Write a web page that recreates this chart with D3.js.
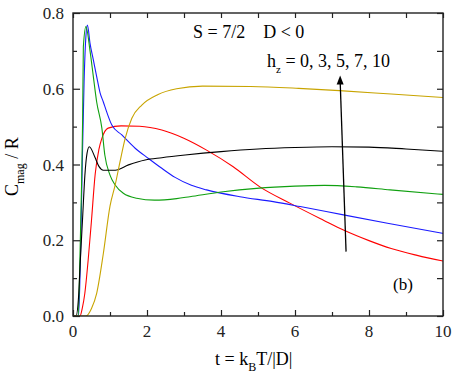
<!DOCTYPE html>
<html>
<head>
<meta charset="utf-8">
<script src="https://cdn.jsdelivr.net/npm/d3@7"></script>
<style>
  body { margin: 0; background: #fff; }
  svg { display: block; font-family: "Liberation Serif", "Times New Roman", serif; }
  .curve { fill: none; stroke-width: 1.1; stroke-linejoin: round; }
</style>
</head>
<body>
<div id="chart"></div>
<script>
// data: t = kB T/|D| and Cmag/R for each field hz
var tH0 = [0, 0.19, 0.25, 0.32, 0.41, 0.5, 0.6, 0.7, 0.78, 0.95, 1.3, 1.8, 2.4, 2.98, 3.61, 4.33, 5.05, 5.86, 6.77, 7.31, 8.0, 8.6, 9.3, 10];
var cH0 = [0, 0, 0.02, 0.06, 0.148, 0.253, 0.375, 0.44, 0.469, 0.496, 0.502, 0.501, 0.491, 0.47, 0.438, 0.394, 0.341, 0.298, 0.253, 0.227, 0.199, 0.178, 0.16, 0.145];

var tH3 = [0, 0.15, 0.2, 0.25, 0.3, 0.35, 0.39, 0.46, 0.55, 0.64, 0.73, 0.82, 0.91, 1.05, 1.32, 1.68, 2.04, 2.4, 2.76, 3.2, 3.61, 4.51, 5.41, 6.14, 7.31, 8.5, 10];
var cH3 = [0, 0, 0.15, 0.4, 0.62, 0.74, 0.768, 0.72, 0.676, 0.632, 0.59, 0.565, 0.539, 0.504, 0.478, 0.443, 0.416, 0.39, 0.366, 0.345, 0.333, 0.315, 0.302, 0.289, 0.267, 0.245, 0.218];

var tH5 = [0, 0.14, 0.19, 0.23, 0.26, 0.28, 0.35, 0.46, 0.55, 0.64, 0.78, 0.86, 1.0, 1.14, 1.36, 1.72, 2.2, 2.8, 3.16, 4.06, 4.96, 6.0, 6.8, 7.67, 8.57, 10];
var cH5 = [0, 0, 0.165, 0.34, 0.517, 0.71, 0.764, 0.7, 0.632, 0.565, 0.496, 0.425, 0.372, 0.346, 0.324, 0.311, 0.306, 0.31, 0.315, 0.328, 0.337, 0.343, 0.345, 0.341, 0.333, 0.321];

var tH7 = [0, 0.08, 0.15, 0.2, 0.26, 0.32, 0.38, 0.44, 0.59, 0.7, 0.82, 1.14, 1.5, 1.95, 2.4, 3.03, 4, 5, 6, 7, 8, 9, 10];
var cH7 = [0, 0, 0.05, 0.15, 0.26, 0.37, 0.43, 0.447, 0.42, 0.395, 0.385, 0.385, 0.399, 0.412, 0.418, 0.425, 0.434, 0.441, 0.445, 0.447, 0.446, 0.441, 0.435];

var tH10 = [0, 0.35, 0.5, 0.64, 0.82, 1.0, 1.14, 1.27, 1.41, 1.59, 1.86, 2.3, 2.8, 3.5, 4.8, 6.1, 7.2, 8.6, 10];
var cH10 = [0, 0, 0.02, 0.06, 0.165, 0.29, 0.346, 0.407, 0.469, 0.522, 0.557, 0.585, 0.6, 0.607, 0.606, 0.601, 0.595, 0.586, 0.577];

var xTicks = [0, 2, 4, 6, 8, 10];
var yTicks = [0, 0.2, 0.4, 0.6, 0.8];

var series = [
  { t: tH0, c: cH0, color: "#ff0000" },
  { t: tH3, c: cH3, color: "#1a1aff" },
  { t: tH5, c: cH5, color: "#10a010" },
  { t: tH7, c: cH7, color: "#000000" },
  { t: tH10, c: cH10, color: "#c8a400" }
];

var W = 457, H = 384;
var pL = 73, pR = 443, pT = 13, pB = 316;

var svg = d3.select("#chart").append("svg").attr("width", W).attr("height", H);

var x = d3.scaleLinear().domain([0, 10]).range([pL, pR]);
var y = d3.scaleLinear().domain([0, 0.8]).range([pB, pT]);

var g = svg.append("g");
g.append("defs").append("clipPath").attr("id", "clip")
  .append("rect").attr("x", pL).attr("y", pT).attr("width", pR - pL).attr("height", pB - pT);

// curves
var line = d3.line()
  .x(function(d) { return x(d[0]); })
  .y(function(d) { return y(d[1]); })
  .curve(d3.curveMonotoneX);

g.append("g").attr("clip-path", "url(#clip)")
  .selectAll("path").data(series).enter().append("path")
  .attr("class", "curve")
  .attr("stroke", function(d) { return d.color; })
  .attr("d", function(d) { return line(d.t.map(function(t, i) { return [t, d.c[i]]; })); });

// axes: ticks inside on all sides
var axisColor = "#222";
var bottomAxis = g.append("g").attr("transform", "translate(0," + pB + ")")
  .call(d3.axisBottom(x).tickValues(d3.range(0, 11, 1)).tickSize(-5).tickFormat(""));
bottomAxis.selectAll(".tick line").attr("y2", function(d) { return d % 2 === 0 ? -6 : -4; });

var topAxis = g.append("g").attr("transform", "translate(0," + pT + ")")
  .call(d3.axisTop(x).tickValues(d3.range(0, 11, 1)).tickSize(-5).tickFormat(""));

var leftAxis = g.append("g").attr("transform", "translate(" + pL + ",0)")
  .call(d3.axisLeft(y).tickValues(d3.range(0, 0.81, 0.1)).tickSize(-4).tickFormat(""));
leftAxis.selectAll(".tick line").attr("x2", function(d) { return Math.round(d * 10) % 2 === 0 ? 7 : 4; });

var rightAxis = g.append("g").attr("transform", "translate(" + pR + ",0)")
  .call(d3.axisRight(y).tickValues(d3.range(0, 0.81, 0.1)).tickSize(-6).tickFormat(""));

g.selectAll(".domain").remove();
g.selectAll(".tick line").attr("stroke", axisColor).attr("stroke-width", 1.2);

g.append("rect").attr("x", pL).attr("y", pT)
  .attr("width", pR - pL).attr("height", pB - pT)
  .attr("fill", "none").attr("stroke", axisColor).attr("stroke-width", 1.4);

// tick labels
g.selectAll(".xlab").data(xTicks).enter().append("text")
  .attr("x", function(d) { return x(d); }).attr("y", 337)
  .attr("text-anchor", "middle").attr("font-size", 17).attr("fill", "#222")
  .text(function(d) { return d; });

g.selectAll(".ylab").data(yTicks).enter().append("text")
  .attr("x", pL - 9).attr("y", function(d) { return y(d) + 6; })
  .attr("text-anchor", "end").attr("font-size", 17).attr("fill", "#222")
  .text(function(d) { return d.toFixed(1); });

// axis titles
var xt = svg.append("text").attr("x", 215).attr("y", 365).attr("font-size", 18);
xt.append("tspan").text("t = k");
xt.append("tspan").attr("font-size", 12).attr("dy", 6).text("B");
xt.append("tspan").attr("dy", -6).text("T/|D|");

var yt = svg.append("text").attr("transform", "translate(18,196) rotate(-90)").attr("font-size", 18);
yt.append("tspan").text("C");
yt.append("tspan").attr("font-size", 12).attr("dy", 6).text("mag");
yt.append("tspan").attr("dy", -6).text(" / R");

// annotations
svg.append("text").attr("x", 193).attr("y", 38).attr("font-size", 18)
  .attr("xml:space", "preserve").text("S = 7/2    D < 0");

var hz = svg.append("text").attr("x", 267).attr("y", 67).attr("font-size", 18);
hz.append("tspan").text("h");
hz.append("tspan").attr("font-size", 11).attr("dy", 6).text("z");
hz.append("tspan").attr("dy", -6).text(" = 0, 3, 5, 7, 10");

svg.append("text").attr("x", 393).attr("y", 290).attr("font-size", 17).text("(b)");

// arrow pointing to increasing hz
var ax0 = x(7.38), ay0 = y(0.17), ax1 = x(7.22), ay1 = y(0.635);
svg.append("line").attr("x1", ax0).attr("y1", ay0).attr("x2", ax1).attr("y2", ay1 + 5)
  .attr("stroke", "#000").attr("stroke-width", 1.3);
svg.append("path")
  .attr("d", "M" + ax1 + "," + ay1 + " L" + (ax1 - 3.5) + "," + (ay1 + 9) + " L" + (ax1 + 3.5) + "," + (ay1 + 9) + " Z")
  .attr("fill", "#000");
</script>
</body>
</html>
